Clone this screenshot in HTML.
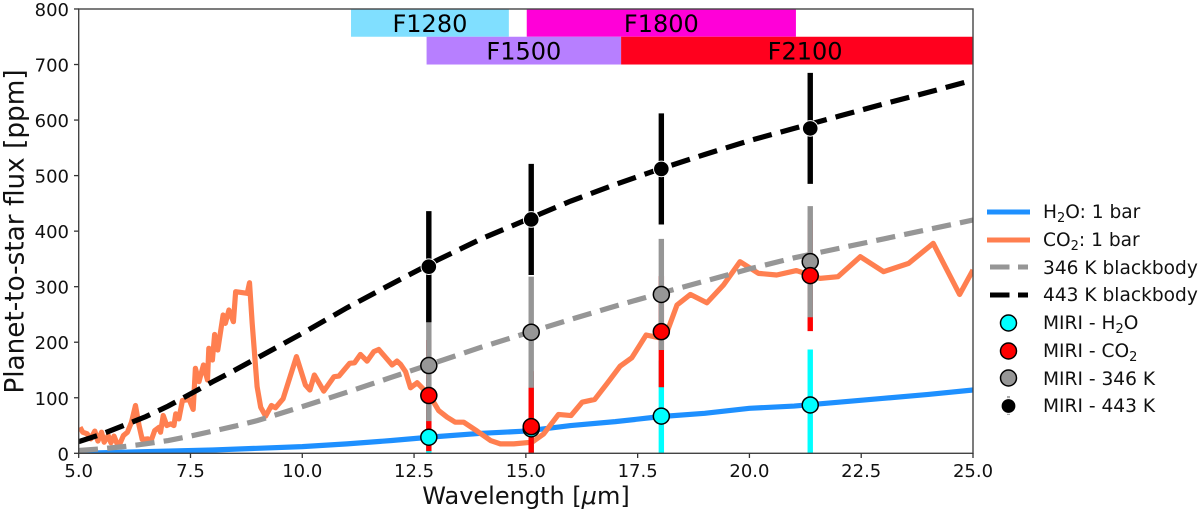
<!DOCTYPE html>
<html lang="en">
<head>
<meta charset="utf-8">
<title>Planet-to-star flux chart</title>
<style>
html,body{margin:0;padding:0;background:#fff;}
body{width:1200px;height:512px;overflow:hidden;}
svg{display:block;font-family:"DejaVu Sans","Liberation Sans",sans-serif;}
</style>
</head>
<body>
<svg id="chart" width="1200" height="512" viewBox="0 0 1200 512" xmlns="http://www.w3.org/2000/svg">
  <defs><clipPath id="plot-clip"><rect x="78.7" y="9" width="894.3" height="444.3"/></clipPath></defs>
  <g id="bands"></g>
  <g id="series" clip-path="url(#plot-clip)"></g>
  <g id="spines"></g>
  <g id="xticks"></g>
  <g id="yticks"></g>
  <text x="526" y="504" font-size="24" text-anchor="middle" fill="#111">Wavelength [<tspan font-style="italic">μ</tspan>m]</text>
  <text transform="translate(23.5,231.5) rotate(-90)" font-size="26.3" text-anchor="middle" fill="#111">Planet-to-star flux [ppm]</text>
  <g font-size="18.6" fill="#111">
    <line x1="987" x2="1030" y1="212" y2="212" stroke="#1e90ff" stroke-width="5"/>
    <line x1="987" x2="1030" y1="240" y2="240" stroke="#ff7f50" stroke-width="5"/>
    <line x1="990" x2="1028" y1="267" y2="267" stroke="#969696" stroke-width="5" stroke-dasharray="19.5 8.5"/>
    <line x1="990" x2="1028" y1="295" y2="295" stroke="#000" stroke-width="5" stroke-dasharray="19.5 8.5"/>
    <circle cx="1008.5" cy="323" r="8" fill="#00ffff" stroke="#000" stroke-width="1.5"/>
    <circle cx="1008.5" cy="351" r="8" fill="#ff0000" stroke="#000" stroke-width="1.5"/>
    <circle cx="1008.5" cy="378" r="8" fill="#969696" stroke="#000" stroke-width="1.5"/>
    <line x1="1008.5" x2="1008.5" y1="396" y2="415" stroke="#aaa" stroke-width="3"/>
    <circle cx="1008.5" cy="406" r="7.4" fill="#000" stroke="#fff" stroke-width="1"/>
    <text x="1043" y="218">H<tspan font-size="13" dy="4">2</tspan><tspan dy="-4">O: 1 bar</tspan></text>
    <text x="1043" y="246">CO<tspan font-size="13" dy="4">2</tspan><tspan dy="-4">: 1 bar</tspan></text>
    <text x="1043" y="274">346 K blackbody</text>
    <text x="1043" y="301">443 K blackbody</text>
    <text x="1043" y="329">MIRI - H<tspan font-size="13" dy="4">2</tspan><tspan dy="-4">O</tspan></text>
    <text x="1043" y="357">MIRI - CO<tspan font-size="13" dy="4">2</tspan></text>
    <text x="1043" y="385">MIRI - 346 K</text>
    <text x="1043" y="412">MIRI - 443 K</text>
  </g>
</svg>
<script>
const xTickValues = [5, 7.5, 10, 12.5, 15, 17.5, 20, 22.5, 25];
const xTickLabels = ["5.0", "7.5", "10.0", "12.5", "15.0", "17.5", "20.0", "22.5", "25.0"];
const yTickValues = [0, 100, 200, 300, 400, 500, 600, 700, 800];
const yTickLabels = ["0", "100", "200", "300", "400", "500", "600", "700", "800"];

const filterNames = ["F1280", "F1800", "F1500", "F2100"];
const filterStart = [11.09, 15.02, 12.78, 17.13];
const filterEnd = [14.62, 21.04, 17.13, 25.36];
const filterLow = [750, 750, 700, 700];
const filterHigh = [800, 800, 750, 750];
const filterColors = ["#80dfff", "#ff00d8", "#b77fff", "#ff001e"];

const h2oWave = [5, 6, 7, 8, 9, 10, 11, 12, 13, 14, 15, 16, 17, 18, 19, 20, 21, 22, 23, 24, 25];
const h2oFlux = [0, 2, 4, 6, 9, 12, 17, 23, 30, 36, 40, 50, 57, 66, 72, 81, 85, 92, 99, 106, 114];

const co2Wave = [5.03,5.09,5.19,5.27,5.36,5.43,5.51,5.57,5.66,5.72,5.79,5.86,5.92,6.00,6.09,6.18,6.27,6.35,6.42,6.55,6.62,6.70,6.80,6.83,6.89,6.97,7.06,7.13,7.17,7.24,7.32,7.47,7.56,7.61,7.69,7.79,7.88,7.91,7.99,8.04,8.11,8.23,8.28,8.36,8.46,8.51,8.77,8.82,8.88,8.99,9.07,9.18,9.31,9.40,9.57,9.87,10.07,10.17,10.27,10.48,10.71,10.82,11.06,11.17,11.30,11.45,11.60,11.71,12.01,12.12,12.20,12.31,12.42,12.57,12.85,13.05,13.24,13.42,13.61,13.91,14.21,14.43,14.73,15.14,15.40,15.73,16.01,16.26,16.54,16.82,17.11,17.37,17.69,18.04,18.16,18.38,18.68,19.05,19.42,19.79,20.20,20.61,21.05,21.58,21.98,22.48,23.00,23.56,24.11,24.70,25.00];
const co2Flux = [47,38,35,26,40,22,38,20,32,19,31,17,17,32,38,56,86,50,25,26,23,41,47,38,68,50,53,50,71,62,95,97,79,153,129,159,132,189,168,214,186,249,234,258,237,291,288,307,234,120,83,67,86,82,98,174,123,114,141,112,138,139,162,163,178,166,183,187,159,166,160,147,118,127,104,77,65,56,56,40,23,17,17,20,35,70,68,92,97,126,157,172,213,207,219,267,286,271,303,345,324,321,329,315,318,354,327,342,378,286,330];

const blackbodyWave = [5, 5.5, 6, 6.5, 7, 7.5, 8, 8.5, 9, 10, 11, 12, 13, 14, 15, 16, 17, 18, 19, 20, 21, 22, 23, 24, 25];
const flux346 = [5, 8, 12, 17, 23, 31, 40, 49, 59, 84, 110, 137, 164, 191, 216, 241, 265, 288, 310, 332, 352, 369, 386, 403, 420];
const flux443 = [21, 34, 50, 66, 85, 107, 129, 150, 172, 216, 262, 305, 347, 386, 420, 454, 484, 512, 538, 563, 585, 607, 629, 650, 672];

const miriWave = [12.83, 15.12, 18.03, 21.36];
const miriH2o = [29, 44, 67, 87];
const miriCo2 = [104, 48, 219, 320];
const miri346 = [158, 218, 286, 345];
const miri443 = [336, 421, 512, 585];
const miriError = 100;

const NS = "http://www.w3.org/2000/svg";
const xScale = w => 78.7 + (w - 5) * 44.715;
const yScale = f => 453.3 - f * 0.5554;

function make(parent, tag, attrs) {
  const el = document.createElementNS(NS, tag);
  for (const k in attrs) el.setAttribute(k, attrs[k]);
  parent.appendChild(el);
  return el;
}
function linePoints(xs, ys) {
  return xs.map((x, i) => xScale(x).toFixed(2) + "," + yScale(ys[i]).toFixed(2)).join(" ");
}

const bands = document.getElementById("bands");
filterNames.forEach((name, i) => {
  const x0 = xScale(filterStart[i]), x1 = xScale(filterEnd[i]);
  const y0 = yScale(filterHigh[i]), y1 = yScale(filterLow[i]);
  const r = make(bands, "rect", {x: x0, y: y0, width: x1 - x0, height: y1 - y0, fill: filterColors[i], "clip-path": "url(#plot-clip)"});
  
  
  const t = make(bands, "text", {x: (x0 + x1) / 2, y: (y0 + y1) / 2 + 9, "font-size": 24, "text-anchor": "middle", fill: "#000"});
  
  
  t.textContent = name;
});

const series = document.getElementById("series");
const h2oLine = make(series, "polyline", {points: linePoints(h2oWave, h2oFlux), fill: "none", stroke: "#1e90ff", "stroke-width": 5.2, "stroke-linejoin": "round"});


const co2Line = make(series, "polyline", {points: linePoints(co2Wave, co2Flux), fill: "none", stroke: "#ff7f50", "stroke-width": 5.2, "stroke-linejoin": "round"});


const line346 = make(series, "polyline", {points: linePoints(blackbodyWave, flux346), fill: "none", stroke: "#969696", "stroke-width": 5.2, "stroke-dasharray": "19.3 9.2"});


const line443 = make(series, "polyline", {points: linePoints(blackbodyWave, flux443), fill: "none", stroke: "#000", "stroke-width": 5.2, "stroke-dasharray": "19.3 9.2"});



function errorBars(values, color) {
  values.forEach((v, i) => {
    const x = xScale(miriWave[i]);
    const bar = make(series, "line", {x1: x, x2: x, y1: yScale(v - miriError), y2: yScale(v + miriError), stroke: color, "stroke-width": 5.4});
    
    
  });
}
function markers(values, color, edge, edgeWidth, radius) {
  values.forEach((v, i) => {
    const m = make(series, "circle", {cx: xScale(miriWave[i]), cy: yScale(v), r: radius, fill: color, stroke: edge, "stroke-width": edgeWidth});
    
    
  });
}
errorBars(miriH2o, "#00ffff");
errorBars(miriCo2, "#ff0000");
errorBars(miri346, "#969696");
errorBars(miri443, "#000000");
markers(miri346, "#969696", "#000", 1.5, 8);
markers(miriH2o, "#00ffff", "#000", 1.5, 8);
markers(miriCo2, "#ff0000", "#000", 1.5, 8);
markers(miri443, "#000000", "#fff", 1, 7.8);

const spines = document.getElementById("spines");
const frame = make(spines, "rect", {x: 78.7, y: 9, width: 894.3, height: 444.3, fill: "none", stroke: "#444", "stroke-width": 1.4});



const xticks = document.getElementById("xticks");
xTickValues.forEach((v, i) => {
  const x = xScale(v);
  const tick = make(xticks, "line", {x1: x, x2: x, y1: 453.3, y2: 458, stroke: "#333", "stroke-width": 1.3});
  
  
  const t = make(xticks, "text", {x: x, y: 477, "font-size": 18, "text-anchor": "middle", fill: "#111"});
  
  
  t.textContent = xTickLabels[i];
});
const yticks = document.getElementById("yticks");
yTickValues.forEach((v, i) => {
  const y = yScale(v);
  const tick = make(yticks, "line", {x1: 74, x2: 78.7, y1: y, y2: y, stroke: "#333", "stroke-width": 1.3});
  
  
  const t = make(yticks, "text", {x: 69, y: y + 7, "font-size": 18, "text-anchor": "end", fill: "#111"});
  
  
  t.textContent = yTickLabels[i];
});
</script>
</body>
</html>
